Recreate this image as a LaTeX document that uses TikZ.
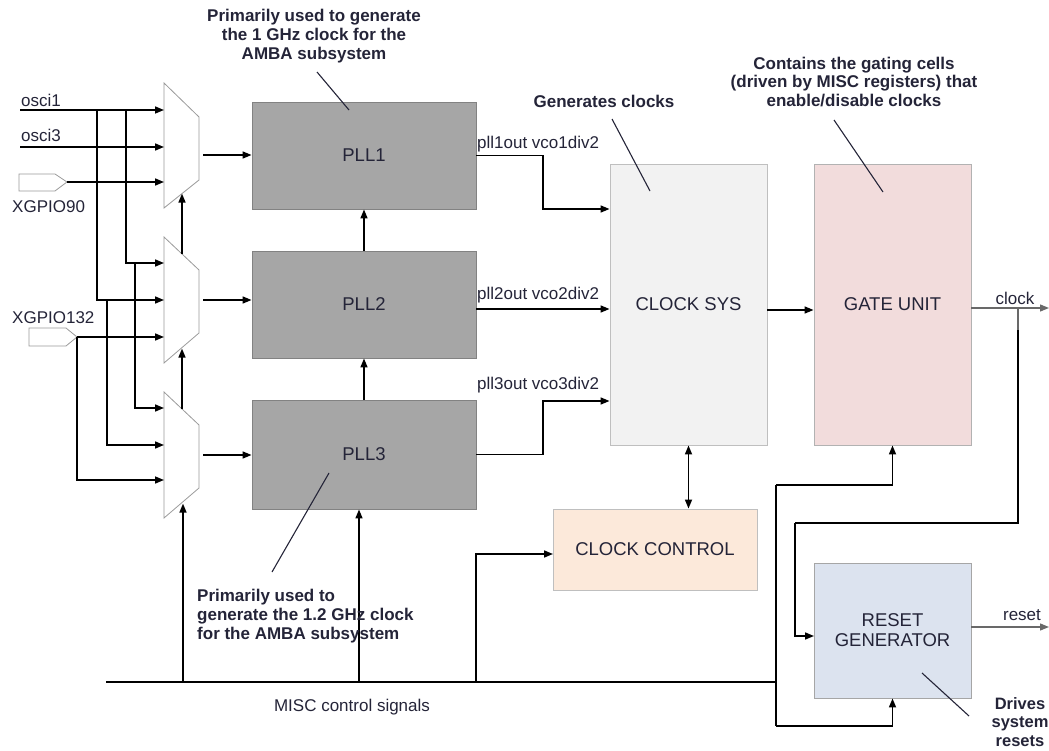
\documentclass[tikz,border=0pt]{standalone}
\usepackage{fontspec}
\setmainfont{Liberation Sans}
\usepackage{xcolor}
\usetikzlibrary{arrows.meta}

\definecolor{txtc}{RGB}{36,36,56}
\definecolor{pllfill}{RGB}{166,166,166}
\definecolor{pllline}{RGB}{130,130,130}
\definecolor{sysfill}{RGB}{242,242,242}
\definecolor{gatefill}{RGB}{242,220,220}
\definecolor{ctrlfill}{RGB}{252,233,218}
\definecolor{rstfill}{RGB}{220,227,239}
\definecolor{wiregray}{RGB}{105,105,105}

\begin{document}
\begin{tikzpicture}[x=1pt,y=-1pt,
    sig/.style={line width=1.6pt, black, -{Triangle[length=9pt,width=7pt]}},
    wire/.style={line width=1.6pt, black},
    gsig/.style={line width=1.3pt, wiregray, -{Triangle[length=9pt,width=7pt]}},
    note/.style={line width=1.1pt, txtc},
    block/.style={draw=#1, line width=0.9pt, inner sep=0pt, text=txtc,
        font=\fontsize{18.5}{20}\selectfont, align=center},
    lbl/.style={text=txtc, inner sep=0pt, font=\fontsize{17}{19}\selectfont},
    bnote/.style={text=txtc, inner sep=0pt, font=\fontsize{17}{18.8}\selectfont\bfseries}
  ]
    \useasboundingbox (0,0) rectangle (1049,751);

    % Blocks
    \node[block=pllline, fill=pllfill, minimum width=224pt, minimum height=107pt] (PLL1) at (364,155.5) {PLL1};
    \node[block=pllline, fill=pllfill, minimum width=224pt, minimum height=107pt] (PLL2) at (364,304.5) {PLL2};
    \node[block=pllline, fill=pllfill, minimum width=224pt, minimum height=109pt] (PLL3) at (364,454.5) {PLL3};
    \node[block=gray!50, fill=sysfill, minimum width=157pt, minimum height=281pt] (CSYS) at (688.5,304.5) {CLOCK SYS};
    \node[block=gray!60, fill=gatefill, minimum width=157pt, minimum height=281pt] (GATE) at (892.5,304.5) {GATE UNIT};
    \node[block=gray!50, fill=ctrlfill, minimum width=204pt, minimum height=81pt] (CTRL) at (655,549.5) {CLOCK CONTROL};
    \node[block=gray!70, fill=rstfill, minimum width=157pt, minimum height=135pt] (RST) at (892.5,630.5) {RESET\\GENERATOR};

    % Multiplexers
    \draw[gray!80, line width=0.8pt] (164,83) -- (199,117) -- (199,180) -- (164,208) -- cycle;
    \draw[gray!80, line width=0.8pt] (164,237) -- (199,270) -- (199,333) -- (164,363) -- cycle;
    \draw[gray!80, line width=0.8pt] (164,392) -- (199,425) -- (199,488) -- (164,518) -- cycle;

    % Input pads
    \draw[gray!80, line width=0.8pt] (19,174) -- (55,174) -- (67,182) -- (55,191) -- (19,191) -- cycle;
    \draw[gray!80, line width=0.8pt] (29,328) -- (66,328) -- (77,337) -- (66,346) -- (29,346) -- cycle;

    % Input coordinates
    \coordinate (O1) at (20,110);   % osci1
    \coordinate (O3) at (20,147);   % osci3
    \coordinate (X90) at (67,182);  % XGPIO90 pad tip
    \coordinate (X132) at (77,337); % XGPIO132 pad tip
    \coordinate (T1) at (126,110);
    \coordinate (T2) at (97,110);
    \coordinate (T3) at (135,263);
    \coordinate (T4) at (107,300);

    % Mux input pins
    \coordinate (M1a) at (164,110);
    \coordinate (M1b) at (164,147);
    \coordinate (M1c) at (164,182);
    \coordinate (M2a) at (164,263);
    \coordinate (M2b) at (164,300);
    \coordinate (M2c) at (164,337);
    \coordinate (M3a) at (164,408);
    \coordinate (M3b) at (164,445);
    \coordinate (M3c) at (164,480);

    % Mux select pins
    \coordinate (S1) at (182,193.6);
    \coordinate (S2t) at (182,254);
    \coordinate (S2) at (182,348.6);
    \coordinate (S3t) at (182,409);
    \coordinate (S3) at (183,503.6);

    % Mux outputs
    \coordinate (Y1) at (203,155);
    \coordinate (Y2) at (203,300);
    \coordinate (Y3) at (203,455);

    % Inputs to muxes
    \draw[sig] (O1) -- (M1a);
    \draw[sig] (O3) -- (M1b);
    \draw[sig] (X90) -- (M1c);
    \draw[sig] (T1) |- (M2a);
    \draw[sig] (T2) |- (M2b);
    \draw[sig] (X132) -- (M2c);
    \draw[sig] (T3) |- (M3a);
    \draw[sig] (T4) |- (M3b);
    \draw[sig] (X132) |- (M3c);

    % Mux select chain
    \draw[sig] (S2t) -- (S1);
    \draw[sig] (S3t) -- (S2);

    % Mux to PLL
    \draw[sig] (Y1) -- (Y1 -| PLL1.west);
    \draw[sig] (Y2) -- (Y2 -| PLL2.west);
    \draw[sig] (Y3) -- (Y3 -| PLL3.west);

    % PLL chain
    \draw[sig] (PLL2.north) -- (PLL1.south);
    \draw[sig] (PLL3.north) -- (PLL2.south);

    % PLL outputs to CLOCK SYS
    \coordinate (K1) at (543,209);
    \coordinate (P2o) at (476,309);
    \coordinate (K3) at (543,401);
    \draw[sig] (PLL1.east) -| (K1) -- (K1 -| CSYS.west);
    \draw[sig] (P2o) -- (P2o -| CSYS.west);
    \draw[sig] (PLL3.east) -| (K3) -- (K3 -| CSYS.west);

    % CLOCK SYS to GATE UNIT, CLOCK CONTROL
    \coordinate (G1) at (767,310);
    \draw[sig] (G1) -- (G1 -| GATE.west);
    \draw[line width=1.6pt, {Triangle[length=9pt,width=7pt]}-{Triangle[length=9pt,width=7pt]}]
        (CSYS.south) -- (CSYS.south |- CTRL.north);

    % Outputs
    \coordinate (CK) at (971,308);
    \coordinate (CKend) at (1049,308);
    \coordinate (Bk) at (1018,308);
    \coordinate (R1) at (795,523);
    \coordinate (Rin) at (814,636);
    \coordinate (RS) at (971,627);
    \coordinate (RSend) at (1049,627);
    \draw[gsig] (CK) -- (CKend);
    \draw[line width=1.3pt, wiregray] (Bk) -- (1018,330);
    \draw[wire] (1018,330) |- (R1);
    \draw[sig] (R1) |- (Rin);
    \draw[gsig] (RS) -- (RSend);

    % MISC control bus
    \coordinate (B0) at (106,682);
    \coordinate (B1) at (776,682);
    \coordinate (Vt) at (776,485);
    \coordinate (Vb) at (776,726);
    \coordinate (Bm) at (183,682);
    \coordinate (Bp) at (359,682);
    \coordinate (Bc) at (476,682);
    \coordinate (CCin) at (553,554);
    \draw[line width=2.3pt] (B0) -- (B1);
    \draw[wire] (Vt) -- (Vb);
    \draw[sig] (Vt) -| (GATE.south);
    \draw[sig] (Vb) -| (RST.south);
    \draw[sig] (Bm) -- (S3);
    \draw[sig] (Bp) -- (Bp |- PLL3.south);
    \draw[sig] (Bc) |- (CCin);

    % Signal labels
    \node[lbl, anchor=west] (l1) at (21,100) {osci1};
    \node[lbl, anchor=west] (l2) at (21,135) {osci3};
    \node[lbl, anchor=west] (l3) at (12,207) {XGPIO90};
    \node[lbl, anchor=west] (l4) at (12,318) {XGPIO132};
    \node[lbl, anchor=west] (l5) at (477,144) {pll1out vco1div2};
    \node[lbl, anchor=west] (l6) at (477,295) {pll2out vco2div2};
    \node[lbl, anchor=west] (l7) at (477,385) {pll3out vco3div2};
    \node[lbl] (l8) at (1015,298) {clock};
    \node[lbl] (l9) at (1022,615) {reset};
    \node[lbl] (l10) at (352,707) {MISC control signals};

    % Annotations
    \node[bnote, align=center] (n1) at (314,36) {Primarily used to generate\\the 1 GHz clock for the\\AMBA subsystem};
    \node[bnote] (n2) at (604,101) {Generates clocks};
    \node[bnote, align=center] (n3) at (854,82) {Contains the gating cells\\(driven by MISC registers) that\\enable/disable clocks};
    \node[bnote, align=left, anchor=west] (n4) at (197,616) {Primarily used to\\generate the 1.2 GHz clock\\for the AMBA subsystem};
    \node[bnote, align=center, font=\fontsize{16.5}{18.2}\selectfont\bfseries] (n5) at (1020,722) {Drives\\system\\resets};

    \coordinate (a1) at (317,72);
    \coordinate (a2) at (349,110);
    \coordinate (b1) at (612,119);
    \coordinate (b2) at (650,191);
    \coordinate (c1) at (834,120);
    \coordinate (c2) at (883,192);
    \coordinate (d1) at (272,572);
    \coordinate (d2) at (329,473);
    \coordinate (e1) at (922,673);
    \coordinate (e2) at (969,716);
    \draw[note] (a1) -- (a2);
    \draw[note] (b1) -- (b2);
    \draw[note] (c1) -- (c2);
    \draw[note] (d1) -- (d2);
    \draw[note] (e1) -- (e2);

\end{tikzpicture}
\end{document}
